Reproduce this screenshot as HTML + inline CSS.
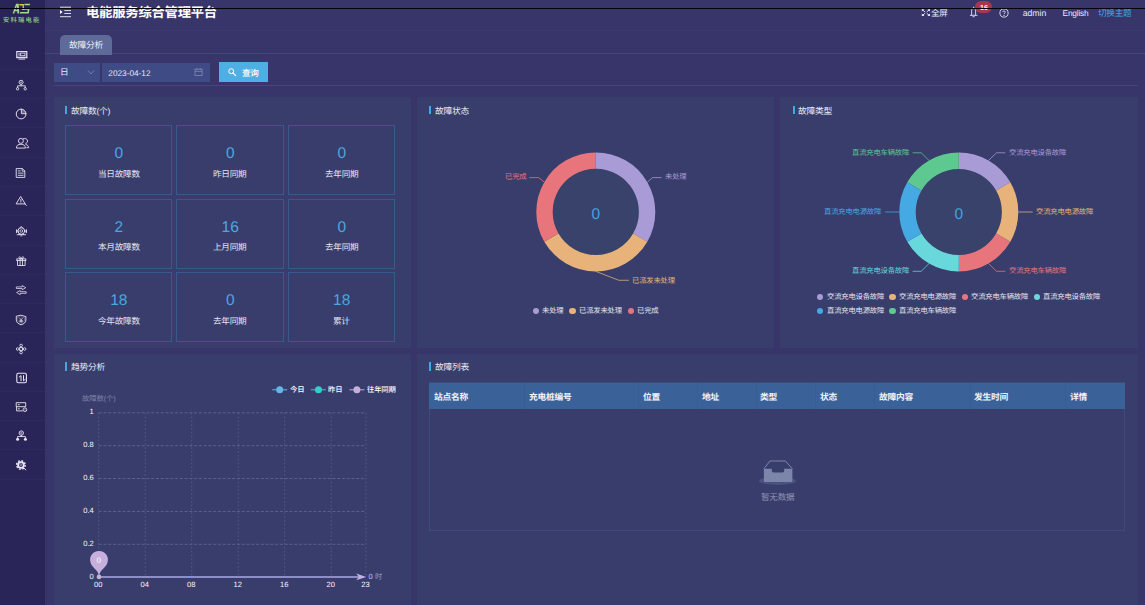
<!DOCTYPE html>
<html lang="zh-CN"><head><meta charset="utf-8"><title>电能服务综合管理平台 - 故障分析</title>
<style>
html,body{margin:0;padding:0;}
body{width:1145px;height:605px;overflow:hidden;background:#38356a;position:relative;font-family:"Liberation Sans",sans-serif;}
#app{position:absolute;left:0;top:0;width:1145px;height:605px;overflow:hidden;}
.b{position:absolute;display:block;}
.cj{position:absolute;display:block;overflow:hidden;}
.cj svg{display:block;overflow:visible;}
.cj text{font-family:"Liberation Sans","Noto Sans CJK SC",sans-serif;letter-spacing:-0.03em;text-rendering:geometricPrecision;}
.tx{position:absolute;display:block;white-space:nowrap;font-family:"Liberation Sans",sans-serif;text-rendering:geometricPrecision;-webkit-font-smoothing:antialiased;}
</style></head><body>
<div id="app">
<aside class="sidebar" aria-label="导航菜单">
<div class="b" style="left:0.00px;top:0.00px;width:45.00px;height:605.00px;background:#2a2558;"></div>
<svg class="b" style="left:10px;top:2px" width="24" height="13" viewBox="10 2 24 13"><g fill="#a2d88e"><path fill-rule="evenodd" d="M12.6 13.4L16.1 3.7H18.7L19.2 13.4H17.4L17.3 11.3H14.9L14.2 13.4ZM15.5 9.7H17.2L17 5.9Z"/><path d="M24.4 3.7H30.2L29.7 5.2H24.4ZM21.8 8.4H29.5L28.8 13.4H19.9L20.2 12.1H27.4L27.8 9.7H21.8Z"/></g><path d="M19.3 4.1H23.9V9.9H22.6V5.4H19.3Z" fill="#f1c232"/></svg>
<span class="cj" style="left:1.75px;top:15.82px;width:38.70px;height:8.17px;"><svg width="38.70" height="8.17" viewBox="0 0 38.70 8.17"><text x="1" y="6.28" font-size="6.28" font-weight="500" fill="#98cf88" style="letter-spacing:0.2em">安科瑞电能</text></svg></span>
<svg class="b" style="left:12px;top:45.40px" width="20" height="20" viewBox="12 45.40 20 20"><rect x="16.8" y="52.0" width="10.0" height="5.7" rx="0" fill="none" stroke="#e6e6f2" stroke-width="1.15"/><rect x="18.6" y="53.3" width="0.9" height="3.0" fill="#e6e6f2"/><rect x="20.6" y="53.5" width="4.4" height="2.6" rx="0" fill="none" stroke="#e6e6f2" stroke-width="0.8"/><path d="M16.5 58.2H27.1" fill="none" stroke="#e6e6f2" stroke-width="0.8" stroke-linejoin="round" stroke-linecap="round" /><path d="M18.9 59.5H24.7" fill="none" stroke="#e6e6f2" stroke-width="0.9" stroke-linejoin="round" stroke-linecap="round" /></svg>
<div class="b" style="left:0.00px;top:68.90px;width:45.00px;height:0.80px;background:rgba(110,110,190,0.07);"></div>
<svg class="b" style="left:12px;top:74.60px" width="20" height="20" viewBox="12 74.60 20 20"><circle cx="21.1" cy="81.9" r="2.0" fill="none" stroke="#e6e6f2" stroke-width="0.9"/><circle cx="21.1" cy="81.9" r="0.7" fill="#e6e6f2"/><path d="M21.1 83.9V85.4M17.6 87.2V85.4H25.2V87.2" fill="none" stroke="#e6e6f2" stroke-width="0.85" stroke-linejoin="round" stroke-linecap="round" /><circle cx="17.6" cy="88.4" r="1.2" fill="none" stroke="#e6e6f2" stroke-width="0.85"/><circle cx="25.2" cy="88.4" r="1.2" fill="none" stroke="#e6e6f2" stroke-width="0.85"/></svg>
<div class="b" style="left:0.00px;top:98.17px;width:45.00px;height:0.80px;background:rgba(110,110,190,0.07);"></div>
<svg class="b" style="left:12px;top:104.20px" width="20" height="20" viewBox="12 104.20 20 20"><circle cx="21.1" cy="114.2" r="4.85" fill="none" stroke="#e6e6f2" stroke-width="0.95"/><path d="M21.4 109.4V113.9H26" fill="none" stroke="#e6e6f2" stroke-width="0.9" stroke-linejoin="round" stroke-linecap="round" /><path d="M21.9 109.6A4.6 4.6 0 0 1 25.8 113.4H21.9Z" fill="#e6e6f2" opacity="0.35"/></svg>
<div class="b" style="left:0.00px;top:127.44px;width:45.00px;height:0.80px;background:rgba(110,110,190,0.07);"></div>
<svg class="b" style="left:12px;top:133.10px" width="20" height="20" viewBox="12 133.10 20 20"><circle cx="20.9" cy="141.0" r="2.5" fill="none" stroke="#e6e6f2" stroke-width="0.9"/><path d="M16.4 147.8C16.4 145.6 18 144.4 20.9 144.4C23.8 144.4 25.4 145.6 25.4 147.8Z" fill="none" stroke="#e6e6f2" stroke-width="0.9" stroke-linejoin="round" stroke-linecap="round" /><path d="M23.3 138.8C25.6 138 27.5 139.3 27.5 141.1C27.5 142.5 26.8 143.3 25.8 143.7M25.9 144.6C27.8 145 28.6 146.2 28.6 147.8H26.8" fill="none" stroke="#e6e6f2" stroke-width="0.9" stroke-linejoin="round" stroke-linecap="round" /></svg>
<div class="b" style="left:0.00px;top:156.71px;width:45.00px;height:0.80px;background:rgba(110,110,190,0.07);"></div>
<svg class="b" style="left:12px;top:162.70px" width="20" height="20" viewBox="12 162.70 20 20"><path d="M16.6 168.3H22.4L24.8 170.7V177.1H16.6Z" fill="none" stroke="#e6e6f2" stroke-width="0.9" stroke-linejoin="round" stroke-linecap="round" /><path d="M22.2 168.5V170.9H24.6" fill="none" stroke="#e6e6f2" stroke-width="0.8" stroke-linejoin="round" stroke-linecap="round" /><path d="M18.2 170.6H20.2M18.2 172.8H23.2M18.2 175H23.2" fill="none" stroke="#e6e6f2" stroke-width="0.85" stroke-linejoin="round" stroke-linecap="round" /></svg>
<div class="b" style="left:0.00px;top:185.98px;width:45.00px;height:0.80px;background:rgba(110,110,190,0.07);"></div>
<svg class="b" style="left:12px;top:191.40px" width="20" height="20" viewBox="12 191.40 20 20"><path d="M20.9 197.2L25.2 204.3H16.5Z" fill="none" stroke="#e6e6f2" stroke-width="0.9" stroke-linejoin="round" stroke-linecap="round" /><path d="M20.9 199.8V202.3" fill="none" stroke="#e6e6f2" stroke-width="0.9" stroke-linejoin="round" stroke-linecap="round" /><circle cx="20.9" cy="203.3" r="0.45" fill="#e6e6f2"/><path d="M24.8 204.2L26.4 205.9" fill="none" stroke="#e6e6f2" stroke-width="0.9" stroke-linejoin="round" stroke-linecap="round" /></svg>
<div class="b" style="left:0.00px;top:215.25px;width:45.00px;height:0.80px;background:rgba(110,110,190,0.07);"></div>
<svg class="b" style="left:12px;top:220.80px" width="20" height="20" viewBox="12 220.80 20 20"><circle cx="21.3" cy="230.8" r="3.3" fill="none" stroke="#e6e6f2" stroke-width="0.95"/><circle cx="21.3" cy="230.8" r="1.3" fill="none" stroke="#e6e6f2" stroke-width="0.75"/><path d="M20.2 227.4L21.3 226.2L22.4 227.4" fill="none" stroke="#e6e6f2" stroke-width="0.8" stroke-linejoin="round" stroke-linecap="round" /><path d="M16.7 229.6V232.4M26.3 229.6V232.4" fill="none" stroke="#e6e6f2" stroke-width="1.1" stroke-linejoin="round" stroke-linecap="round" /><path d="M16.7 230.8H18M24.6 230.8H26.3" fill="none" stroke="#e6e6f2" stroke-width="0.8" stroke-linejoin="round" stroke-linecap="round" /><path d="M17.2 234.5H25.6" fill="none" stroke="#e6e6f2" stroke-width="0.9" stroke-linejoin="round" stroke-linecap="round" /><path d="M19.6 233.8L19 234.5M23 233.8L23.6 234.5M20.6 235.6H22" fill="none" stroke="#e6e6f2" stroke-width="0.7" stroke-linejoin="round" stroke-linecap="round" /></svg>
<div class="b" style="left:0.00px;top:244.52px;width:45.00px;height:0.80px;background:rgba(110,110,190,0.07);"></div>
<svg class="b" style="left:12px;top:251.00px" width="20" height="20" viewBox="12 251.00 20 20"><rect x="16.8" y="258.9" width="9.0" height="1.7" rx="0" fill="none" stroke="#e6e6f2" stroke-width="0.85"/><path d="M17.5 260.6V265.5H25.1V260.6" fill="none" stroke="#e6e6f2" stroke-width="0.85" stroke-linejoin="round" stroke-linecap="round" /><path d="M20.1 258.9V265.5M22.5 258.9V265.5" fill="none" stroke="#e6e6f2" stroke-width="0.85" stroke-linejoin="round" stroke-linecap="round" /><path d="M21.3 258.8C20 258.8 18.6 258.2 18.9 257.2C19.3 256.2 20.9 256.8 21.3 258.8C21.7 256.8 23.3 256.2 23.7 257.2C24 258.2 22.6 258.8 21.3 258.8" fill="none" stroke="#e6e6f2" stroke-width="0.8" stroke-linejoin="round" stroke-linecap="round" /></svg>
<div class="b" style="left:0.00px;top:273.79px;width:45.00px;height:0.80px;background:rgba(110,110,190,0.07);"></div>
<svg class="b" style="left:12px;top:280.00px" width="20" height="20" viewBox="12 280.00 20 20"><path d="M16.7 286.9H22.2V285.6L25.8 287.7L22.2 289.8V288.5H16.7Z" fill="none" stroke="#e6e6f2" stroke-width="0.75" stroke-linejoin="round" stroke-linecap="round" /><path d="M25.8 291.7H20.2V290.4L16.6 292.5L20.2 294.6V293.3H25.8Z" fill="none" stroke="#e6e6f2" stroke-width="0.75" stroke-linejoin="round" stroke-linecap="round" /></svg>
<div class="b" style="left:0.00px;top:303.06px;width:45.00px;height:0.80px;background:rgba(110,110,190,0.07);"></div>
<svg class="b" style="left:12px;top:309.60px" width="20" height="20" viewBox="12 309.60 20 20"><path d="M21.1 314.9L25.9 316.2V319.6C25.9 322 23.8 323.6 21.1 324.4C18.4 323.6 16.3 322 16.3 319.6V316.2Z" fill="none" stroke="#e6e6f2" stroke-width="0.9" stroke-linejoin="round" stroke-linecap="round" /><path d="M21.1 316.4L24.5 317.3V319.5C24.5 321.2 23 322.4 21.1 323C19.2 322.4 17.7 321.2 17.7 319.5V317.3Z" fill="none" stroke="#e6e6f2" stroke-width="0.5" stroke-linejoin="round" stroke-linecap="round" opacity="0.55"/><path d="M19.8 317.9L21.1 319.3L22.4 317.9M21.1 319.3V322M19.7 319.9H22.5M19.7 321H22.5" fill="none" stroke="#e6e6f2" stroke-width="0.7" stroke-linejoin="round" stroke-linecap="round" /></svg>
<div class="b" style="left:0.00px;top:332.33px;width:45.00px;height:0.80px;background:rgba(110,110,190,0.07);"></div>
<svg class="b" style="left:12px;top:339.00px" width="20" height="20" viewBox="12 339.00 20 20"><rect x="19.7" y="347.6" width="2.8" height="2.8" rx="0" fill="none" stroke="#e6e6f2" stroke-width="0.9"/><circle cx="21.1" cy="345.5" r="1.3" fill="none" stroke="#e6e6f2" stroke-width="0.85"/><circle cx="21.1" cy="352.5" r="1.3" fill="none" stroke="#e6e6f2" stroke-width="0.85"/><circle cx="17.6" cy="349" r="1.3" fill="none" stroke="#e6e6f2" stroke-width="0.85"/><circle cx="24.6" cy="349" r="1.3" fill="none" stroke="#e6e6f2" stroke-width="0.85"/></svg>
<div class="b" style="left:0.00px;top:361.60px;width:45.00px;height:0.80px;background:rgba(110,110,190,0.07);"></div>
<svg class="b" style="left:12px;top:368.30px" width="20" height="20" viewBox="12 368.30 20 20"><rect x="16.8" y="373.5" width="9.6" height="9.6" rx="1.5" fill="none" stroke="#e6e6f2" stroke-width="1.1"/><path d="M19.3 377.3L21 375.9V381.1M25.1 379.7L23.5 381.1V375.9" fill="none" stroke="#e6e6f2" stroke-width="1.0" stroke-linejoin="round" stroke-linecap="round" /></svg>
<div class="b" style="left:0.00px;top:390.87px;width:45.00px;height:0.80px;background:rgba(110,110,190,0.07);"></div>
<svg class="b" style="left:12px;top:396.70px" width="20" height="20" viewBox="12 396.70 20 20"><path d="M16.6 402.4H25.7V406.4H16.6ZM16.6 406.4V410.6H22.3" fill="none" stroke="#e6e6f2" stroke-width="0.9" stroke-linejoin="round" stroke-linecap="round" /><path d="M18.2 404.4H19.3M18.2 408.5H19.3" fill="none" stroke="#e6e6f2" stroke-width="0.9" stroke-linejoin="round" stroke-linecap="round" /><circle cx="24.9" cy="409.4" r="1.85" fill="none" stroke="#e6e6f2" stroke-width="0.9"/><circle cx="24.9" cy="409.4" r="0.5" fill="#e6e6f2"/></svg>
<div class="b" style="left:0.00px;top:420.14px;width:45.00px;height:0.80px;background:rgba(110,110,190,0.07);"></div>
<svg class="b" style="left:12px;top:426.00px" width="20" height="20" viewBox="12 426.00 20 20"><circle cx="21.3" cy="433.1" r="2.2" fill="none" stroke="#e6e6f2" stroke-width="0.9"/><circle cx="21.3" cy="433.1" r="0.8" fill="none" stroke="#e6e6f2" stroke-width="0.6"/><path d="M21.3 435.3V436.5M17.6 438V436.5H25.4V438" fill="none" stroke="#e6e6f2" stroke-width="0.85" stroke-linejoin="round" stroke-linecap="round" /><circle cx="17.6" cy="439.3" r="1.5" fill="#e6e6f2"/><circle cx="25.4" cy="439.3" r="1.5" fill="#e6e6f2"/></svg>
<div class="b" style="left:0.00px;top:449.41px;width:45.00px;height:0.80px;background:rgba(110,110,190,0.07);"></div>
<svg class="b" style="left:12px;top:455.10px" width="20" height="20" viewBox="12 455.10 20 20"><circle cx="20.9" cy="465.1" r="4.3" fill="none" stroke="#e6e6f2" stroke-width="1.4" stroke-dasharray="1.8 1.577"/><circle cx="20.9" cy="465.1" r="3.8" fill="#e6e6f2"/><circle cx="20.9" cy="465.1" r="1.9" fill="#2a2558"/><circle cx="20.7" cy="464.9" r="0.9" fill="none" stroke="#e6e6f2" stroke-width="0.5"/><path d="M23.9 468.1L25.9 470.1" fill="none" stroke="#e6e6f2" stroke-width="1.0" stroke-linejoin="round" stroke-linecap="round" /></svg>
<div class="b" style="left:0.00px;top:478.68px;width:45.00px;height:0.80px;background:rgba(110,110,190,0.07);"></div>
</aside>
<header class="topbar">
<span class="cj" style="left:85.20px;top:4.11px;width:133.00px;height:17.37px;"><svg width="133.00" height="17.37" viewBox="0 0 133.00 17.37"><text x="1" y="13.36" font-size="13.36" font-weight="bold" fill="#ffffff" style="letter-spacing:-0.02em">电能服务综合管理平台</text></svg></span>
<svg class="b" style="left:59.00px;top:5.00px;" width="14.00" height="14.00" viewBox="0 0 14.00 14.00"><g stroke="#fff" stroke-width="0.85" fill="none"><path d="M1 2.2H12M5.3 5.6H12M5.3 8.5H12M1 11.7H12"/></g><path d="M1 5L3.6 7.05L1 9.1Z" fill="#fff"/></svg>
<svg class="b" style="left:920px;top:7px" width="12" height="12" viewBox="920 7 12 12"><path d="M921.80 9.20L924.40 9.20L921.80 11.60Z" fill="#eceef8"/><path d="M925.10 11.95L922.70 10.00" stroke="#eceef8" stroke-width="0.9"/><path d="M921.80 16.00L924.40 16.00L921.80 13.60Z" fill="#eceef8"/><path d="M925.10 13.25L922.70 15.20" stroke="#eceef8" stroke-width="0.9"/><path d="M930.00 9.20L927.40 9.20L930.00 11.60Z" fill="#eceef8"/><path d="M926.70 11.95L929.10 10.00" stroke="#eceef8" stroke-width="0.9"/><path d="M930.00 16.00L927.40 16.00L930.00 13.60Z" fill="#eceef8"/><path d="M926.70 13.25L929.10 15.20" stroke="#eceef8" stroke-width="0.9"/></svg>
<span class="cj" style="left:930.10px;top:7.16px;width:18.70px;height:11.18px;"><svg width="18.70" height="11.18" viewBox="0 0 18.70 11.18"><text x="1" y="8.60" font-size="8.60" fill="#eceef8">全屏</text></svg></span>
<svg class="b" style="left:968px;top:5px" width="12" height="14" viewBox="968 5 12 14"><g stroke="#dfe1f0" stroke-width="0.9" fill="none" stroke-linecap="round"><path d="M971.6 15.2V11.1C971.6 9.1 972.4 8.1 973.6 8.1C974.8 8.1 975.6 9.1 975.6 11.1V15.2M970.3 15.3H977.1M972.9 16.7H974.3M973.6 7.2V8"/></g></svg>
<div class="b" style="left:975.20px;top:0.90px;width:17.10px;height:12.40px;background:#aa364e;border-radius:6.2px;"></div>
<span class="tx" style="left:983.90px;width:200px;margin-left:-100px;text-align:center;top:3.58px;font-size:7.20px;line-height:8.64px;color:#f6eef2;font-weight:bold;">16</span>
<svg class="b" style="left:999.40px;top:8.20px;" width="10.00" height="10.00" viewBox="0 0 10.00 10.00"><circle cx="5" cy="5" r="4.1" fill="none" stroke="#dfe1f0" stroke-width="0.9"/><path d="M3.7 4.1C3.7 2.5 6.3 2.5 6.3 4.1C6.3 5.1 5 5.1 5 6.1" fill="none" stroke="#dfe1f0" stroke-width="0.85"/><circle cx="5" cy="7.4" r="0.55" fill="#dfe1f0"/></svg>
<span class="tx" style="left:1022.70px;top:7.88px;font-size:8.70px;line-height:10.44px;color:#e8e9f5;font-weight:normal;">admin</span>
<span class="tx" style="left:1062.50px;top:8.09px;font-size:8.35px;line-height:10.02px;color:#e8e9f5;font-weight:normal;letter-spacing:-0.19px;">English</span>
<span class="cj" style="left:1097.20px;top:7.41px;width:35.40px;height:11.18px;"><svg width="35.40" height="11.18" viewBox="0 0 35.40 11.18"><text x="1" y="8.60" font-size="8.60" fill="#3fa9e2">切换主题</text></svg></span>
</header>
<nav class="tabs">
<div class="b" style="left:45.00px;top:30.20px;width:1100.00px;height:0.80px;background:rgba(120,130,190,0.06);"></div>
<div class="b" style="left:45.00px;top:53.00px;width:1100.00px;height:1.00px;background:#41467d;"></div>
<div class="b" style="left:59.70px;top:35.10px;width:52.50px;height:19.50px;background:#5e6b99;border-radius:5px 5px 0 0;"></div>
<span class="cj" style="left:67.80px;top:39.38px;width:36.20px;height:11.45px;"><svg width="36.20" height="11.45" viewBox="0 0 36.20 11.45"><text x="1" y="8.81" font-size="8.81" fill="#eff0f9">故障分析</text></svg></span>
</nav>
<div class="filters" role="search">
<div class="b" style="left:54.00px;top:62.50px;width:46.00px;height:19.30px;background:#3f4b85;"></div>
<div class="b" style="left:101.80px;top:62.50px;width:108.20px;height:19.30px;background:#3f4b85;"></div>
<span class="cj" style="left:59.20px;top:66.41px;width:10.35px;height:11.18px;"><svg width="10.35" height="11.18" viewBox="0 0 10.35 11.18"><text x="1" y="8.60" font-size="8.60" fill="#e9ebf6">日</text></svg></span>
<svg class="b" style="left:86.50px;top:69.00px;" width="8.00" height="7.00" viewBox="0 0 8.00 7.00"><path d="M1 1.5L4 5L7 1.5" fill="none" stroke="#7e89b6" stroke-width="0.8"/></svg>
<span class="tx" style="left:108.30px;top:69.05px;font-size:8.25px;line-height:9.90px;color:#e9ebf6;font-weight:normal;">2023-04-12</span>
<svg class="b" style="left:193.50px;top:66.80px;" width="10.00" height="10.00" viewBox="0 0 10.00 10.00"><g fill="none" stroke="#7e89b6" stroke-width="0.8"><rect x="1" y="2.2" width="7.1" height="6.3"/><path d="M1 4.4H8.1M2.9 1.1V2.8M6.2 1.1V2.8"/></g></svg>
<div class="b" style="left:218.60px;top:62.35px;width:49.00px;height:19.50px;background:#4eafe4;"></div>
<svg class="b" style="left:227.00px;top:67.00px;" width="11.00" height="11.00" viewBox="0 0 11.00 11.00"><circle cx="4.2" cy="4.2" r="2.45" fill="none" stroke="#fff" stroke-width="1.0"/><path d="M6 6L8.7 8.7" stroke="#fff" stroke-width="1.15" stroke-linecap="round"/></svg>
<span class="cj" style="left:240.60px;top:66.61px;width:18.70px;height:11.18px;"><svg width="18.70" height="11.18" viewBox="0 0 18.70 11.18"><text x="1" y="8.60" font-size="8.60" font-weight="500" fill="#ffffff">查询</text></svg></span>
<div class="b" style="left:53.70px;top:85.00px;width:1084.00px;height:1.00px;background:#42477e;"></div>
</div>
<main class="content">
<section class="panel" aria-label="故障数(个)">
<div class="b" style="left:53.70px;top:97.00px;width:357.20px;height:250.70px;background:#393d6c;"></div>
<div class="b" style="left:65.10px;top:106.00px;width:2.30px;height:8.20px;background:#41a8e2;"></div>
<span class="cj" style="left:69.50px;top:104.86px;width:41.75px;height:11.38px;"><svg width="41.75" height="11.38" viewBox="0 0 41.75 11.38"><text x="1" y="8.76" font-size="8.76" fill="#e8eaf5">故障数(个)</text></svg></span>
<div class="b" style="left:65.00px;top:125.00px;width:107.30px;height:70.00px;border:1px solid rgba(52,130,190,0.42);box-sizing:border-box;"></div>
<span class="tx" style="left:118.80px;width:200px;margin-left:-100px;text-align:center;top:144.80px;font-size:15.50px;line-height:18.60px;color:#49a7e3;font-weight:normal;">0</span>
<span class="cj" style="left:96.80px;top:167.88px;width:44.00px;height:11.25px;"><svg width="44.00" height="11.25" viewBox="0 0 44.00 11.25"><text x="1" y="8.65" font-size="8.65" fill="#e3e6f3">当日故障数</text></svg></span>
<div class="b" style="left:176.40px;top:125.00px;width:107.30px;height:70.00px;border:1px solid rgba(52,130,190,0.42);box-sizing:border-box;"></div>
<span class="tx" style="left:230.20px;width:200px;margin-left:-100px;text-align:center;top:144.80px;font-size:15.50px;line-height:18.60px;color:#49a7e3;font-weight:normal;">0</span>
<span class="cj" style="left:212.40px;top:167.88px;width:35.60px;height:11.25px;"><svg width="35.60" height="11.25" viewBox="0 0 35.60 11.25"><text x="1" y="8.65" font-size="8.65" fill="#e3e6f3">昨日同期</text></svg></span>
<div class="b" style="left:287.90px;top:125.00px;width:107.30px;height:70.00px;border:1px solid rgba(52,130,190,0.42);box-sizing:border-box;"></div>
<span class="tx" style="left:341.70px;width:200px;margin-left:-100px;text-align:center;top:144.80px;font-size:15.50px;line-height:18.60px;color:#49a7e3;font-weight:normal;">0</span>
<span class="cj" style="left:323.90px;top:167.88px;width:35.60px;height:11.25px;"><svg width="35.60" height="11.25" viewBox="0 0 35.60 11.25"><text x="1" y="8.65" font-size="8.65" fill="#e3e6f3">去年同期</text></svg></span>
<div class="b" style="left:65.00px;top:198.60px;width:107.30px;height:70.00px;border:1px solid rgba(52,130,190,0.42);box-sizing:border-box;"></div>
<span class="tx" style="left:118.80px;width:200px;margin-left:-100px;text-align:center;top:219.30px;font-size:15.50px;line-height:18.60px;color:#49a7e3;font-weight:normal;">2</span>
<span class="cj" style="left:96.80px;top:241.48px;width:44.00px;height:11.25px;"><svg width="44.00" height="11.25" viewBox="0 0 44.00 11.25"><text x="1" y="8.65" font-size="8.65" fill="#e3e6f3">本月故障数</text></svg></span>
<div class="b" style="left:176.40px;top:198.60px;width:107.30px;height:70.00px;border:1px solid rgba(52,130,190,0.42);box-sizing:border-box;"></div>
<span class="tx" style="left:230.20px;width:200px;margin-left:-100px;text-align:center;top:219.30px;font-size:15.50px;line-height:18.60px;color:#49a7e3;font-weight:normal;">16</span>
<span class="cj" style="left:212.40px;top:241.48px;width:35.60px;height:11.25px;"><svg width="35.60" height="11.25" viewBox="0 0 35.60 11.25"><text x="1" y="8.65" font-size="8.65" fill="#e3e6f3">上月同期</text></svg></span>
<div class="b" style="left:287.90px;top:198.60px;width:107.30px;height:70.00px;border:1px solid rgba(52,130,190,0.42);box-sizing:border-box;"></div>
<span class="tx" style="left:341.70px;width:200px;margin-left:-100px;text-align:center;top:219.30px;font-size:15.50px;line-height:18.60px;color:#49a7e3;font-weight:normal;">0</span>
<span class="cj" style="left:323.90px;top:241.48px;width:35.60px;height:11.25px;"><svg width="35.60" height="11.25" viewBox="0 0 35.60 11.25"><text x="1" y="8.65" font-size="8.65" fill="#e3e6f3">去年同期</text></svg></span>
<div class="b" style="left:65.00px;top:272.00px;width:107.30px;height:70.00px;border:1px solid rgba(52,130,190,0.42);box-sizing:border-box;"></div>
<span class="tx" style="left:118.80px;width:200px;margin-left:-100px;text-align:center;top:291.80px;font-size:15.50px;line-height:18.60px;color:#49a7e3;font-weight:normal;">18</span>
<span class="cj" style="left:96.80px;top:314.88px;width:44.00px;height:11.25px;"><svg width="44.00" height="11.25" viewBox="0 0 44.00 11.25"><text x="1" y="8.65" font-size="8.65" fill="#e3e6f3">今年故障数</text></svg></span>
<div class="b" style="left:176.40px;top:272.00px;width:107.30px;height:70.00px;border:1px solid rgba(52,130,190,0.42);box-sizing:border-box;"></div>
<span class="tx" style="left:230.20px;width:200px;margin-left:-100px;text-align:center;top:291.80px;font-size:15.50px;line-height:18.60px;color:#49a7e3;font-weight:normal;">0</span>
<span class="cj" style="left:212.40px;top:314.88px;width:35.60px;height:11.25px;"><svg width="35.60" height="11.25" viewBox="0 0 35.60 11.25"><text x="1" y="8.65" font-size="8.65" fill="#e3e6f3">去年同期</text></svg></span>
<div class="b" style="left:287.90px;top:272.00px;width:107.30px;height:70.00px;border:1px solid rgba(52,130,190,0.42);box-sizing:border-box;"></div>
<span class="tx" style="left:341.70px;width:200px;margin-left:-100px;text-align:center;top:291.80px;font-size:15.50px;line-height:18.60px;color:#49a7e3;font-weight:normal;">18</span>
<span class="cj" style="left:332.30px;top:314.88px;width:18.80px;height:11.25px;"><svg width="18.80" height="11.25" viewBox="0 0 18.80 11.25"><text x="1" y="8.65" font-size="8.65" fill="#e3e6f3">累计</text></svg></span>
</section>
<section class="panel" aria-label="故障状态">
<div class="b" style="left:416.90px;top:97.00px;width:357.00px;height:250.70px;background:#393d6c;"></div>
<div class="b" style="left:429.10px;top:106.00px;width:2.30px;height:8.20px;background:#41a8e2;"></div>
<span class="cj" style="left:433.50px;top:104.86px;width:36.00px;height:11.38px;"><svg width="36.00" height="11.38" viewBox="0 0 36.00 11.38"><text x="1" y="8.76" font-size="8.76" fill="#e8eaf5">故障状态</text></svg></span>
<svg class="b" style="left:416.90px;top:97.00px;" width="357.00" height="250.70" viewBox="0 0 357.00 250.70"><circle cx="178.80" cy="114.90" r="43.60" fill="#39426a"/><path d="M178.80 55.40A59.50 59.50 0 0 1 230.33 144.65L216.13 136.45A43.10 43.10 0 0 0 178.80 71.80Z" fill="#a99bd6"/><path d="M230.33 144.65A59.50 59.50 0 0 1 127.27 144.65L141.47 136.45A43.10 43.10 0 0 0 216.13 136.45Z" fill="#e7b37a"/><path d="M127.27 144.65A59.50 59.50 0 0 1 178.80 55.40L178.80 71.80A43.10 43.10 0 0 0 141.47 136.45Z" fill="#e7757b"/><polyline points="230.30,85.20 235.60,80.60 244.60,80.60" fill="none" stroke="#a99bd6" stroke-width="0.75"/><polyline points="178.80,174.40 201.90,183.30 211.90,183.30" fill="none" stroke="#e7b37a" stroke-width="0.75"/><polyline points="127.30,85.20 121.70,80.60 112.30,80.60" fill="none" stroke="#e7757b" stroke-width="0.75"/></svg>
<span class="tx" style="left:595.70px;width:200px;margin-left:-100px;text-align:center;top:206.00px;font-size:15.50px;line-height:18.60px;color:#3fa4e0;font-weight:normal;">0</span>
<span class="cj" style="left:663.90px;top:172.21px;width:23.48px;height:9.59px;"><svg width="23.48" height="9.59" viewBox="0 0 23.48 9.59"><text x="1" y="7.37" font-size="7.37" fill="#a99bd6">未处理</text></svg></span>
<span class="cj" style="left:630.90px;top:275.61px;width:44.96px;height:9.59px;"><svg width="44.96" height="9.59" viewBox="0 0 44.96 9.59"><text x="1" y="7.37" font-size="7.37" fill="#e7b37a">已派发未处理</text></svg></span>
<span class="cj" style="left:504.32px;top:172.21px;width:23.48px;height:9.59px;"><svg width="23.48" height="9.59" viewBox="0 0 23.48 9.59"><text x="1" y="7.37" font-size="7.37" fill="#e7757b">已完成</text></svg></span>
<div class="b" style="left:532.90px;top:308.00px;width:6.20px;height:6.20px;background:#a99bd6;border-radius:50%;"></div>
<span class="cj" style="left:540.90px;top:306.21px;width:23.48px;height:9.59px;"><svg width="23.48" height="9.59" viewBox="0 0 23.48 9.59"><text x="1" y="7.37" font-size="7.37" fill="#e3e6f3">未处理</text></svg></span>
<div class="b" style="left:569.40px;top:308.00px;width:6.20px;height:6.20px;background:#e7b37a;border-radius:50%;"></div>
<span class="cj" style="left:577.60px;top:306.21px;width:44.96px;height:9.59px;"><svg width="44.96" height="9.59" viewBox="0 0 44.96 9.59"><text x="1" y="7.37" font-size="7.37" fill="#e3e6f3">已派发未处理</text></svg></span>
<div class="b" style="left:627.60px;top:308.00px;width:6.20px;height:6.20px;background:#e7757b;border-radius:50%;"></div>
<span class="cj" style="left:635.60px;top:306.21px;width:23.48px;height:9.59px;"><svg width="23.48" height="9.59" viewBox="0 0 23.48 9.59"><text x="1" y="7.37" font-size="7.37" fill="#e3e6f3">已完成</text></svg></span>
</section>
<section class="panel" aria-label="故障类型">
<div class="b" style="left:780.00px;top:97.00px;width:357.60px;height:250.70px;background:#393d6c;"></div>
<div class="b" style="left:792.50px;top:106.00px;width:2.30px;height:8.20px;background:#41a8e2;"></div>
<span class="cj" style="left:796.90px;top:104.86px;width:36.00px;height:11.38px;"><svg width="36.00" height="11.38" viewBox="0 0 36.00 11.38"><text x="1" y="8.76" font-size="8.76" fill="#e8eaf5">故障类型</text></svg></span>
<svg class="b" style="left:780.00px;top:97.00px;" width="357.60" height="250.70" viewBox="0 0 357.60 250.70"><circle cx="178.80" cy="115.00" r="43.60" fill="#39426a"/><path d="M178.80 55.50A59.50 59.50 0 0 1 230.33 85.25L216.13 93.45A43.10 43.10 0 0 0 178.80 71.90Z" fill="#a99bd6"/><path d="M230.33 85.25A59.50 59.50 0 0 1 230.33 144.75L216.13 136.55A43.10 43.10 0 0 0 216.13 93.45Z" fill="#e7b37a"/><path d="M230.33 144.75A59.50 59.50 0 0 1 178.80 174.50L178.80 158.10A43.10 43.10 0 0 0 216.13 136.55Z" fill="#e7757b"/><path d="M178.80 174.50A59.50 59.50 0 0 1 127.27 144.75L141.47 136.55A43.10 43.10 0 0 0 178.80 158.10Z" fill="#68d8dc"/><path d="M127.27 144.75A59.50 59.50 0 0 1 127.27 85.25L141.47 93.45A43.10 43.10 0 0 0 141.47 136.55Z" fill="#45a9e3"/><path d="M127.27 85.25A59.50 59.50 0 0 1 178.80 55.50L178.80 71.90A43.10 43.10 0 0 0 141.47 93.45Z" fill="#5dc890"/><polyline points="208.50,63.50 216.50,55.80 225.30,55.80" fill="none" stroke="#a99bd6" stroke-width="0.75"/><polyline points="238.30,115.00 252.70,115.00" fill="none" stroke="#e7b37a" stroke-width="0.75"/><polyline points="208.50,166.50 216.50,174.30 225.30,174.30" fill="none" stroke="#e7757b" stroke-width="0.75"/><polyline points="149.10,166.50 141.20,174.30 132.60,174.30" fill="none" stroke="#68d8dc" stroke-width="0.75"/><polyline points="119.40,115.00 105.20,115.00" fill="none" stroke="#45a9e3" stroke-width="0.75"/><polyline points="149.10,63.50 141.20,55.80 132.60,55.80" fill="none" stroke="#5dc890" stroke-width="0.75"/></svg>
<span class="tx" style="left:958.80px;width:200px;margin-left:-100px;text-align:center;top:206.10px;font-size:15.50px;line-height:18.60px;color:#3fa4e0;font-weight:normal;">0</span>
<span class="cj" style="left:1007.60px;top:147.81px;width:59.28px;height:9.59px;"><svg width="59.28" height="9.59" viewBox="0 0 59.28 9.59"><text x="1" y="7.37" font-size="7.37" fill="#a99bd6">交流充电设备故障</text></svg></span>
<span class="cj" style="left:1034.80px;top:206.91px;width:59.28px;height:9.59px;"><svg width="59.28" height="9.59" viewBox="0 0 59.28 9.59"><text x="1" y="7.37" font-size="7.37" fill="#e7b37a">交流充电电源故障</text></svg></span>
<span class="cj" style="left:1007.60px;top:266.11px;width:59.28px;height:9.59px;"><svg width="59.28" height="9.59" viewBox="0 0 59.28 9.59"><text x="1" y="7.37" font-size="7.37" fill="#e7757b">交流充电车辆故障</text></svg></span>
<span class="cj" style="left:850.92px;top:266.11px;width:59.28px;height:9.59px;"><svg width="59.28" height="9.59" viewBox="0 0 59.28 9.59"><text x="1" y="7.37" font-size="7.37" fill="#68d8dc">直流充电设备故障</text></svg></span>
<span class="cj" style="left:823.32px;top:206.91px;width:59.28px;height:9.59px;"><svg width="59.28" height="9.59" viewBox="0 0 59.28 9.59"><text x="1" y="7.37" font-size="7.37" fill="#45a9e3">直流充电电源故障</text></svg></span>
<span class="cj" style="left:850.92px;top:147.81px;width:59.28px;height:9.59px;"><svg width="59.28" height="9.59" viewBox="0 0 59.28 9.59"><text x="1" y="7.37" font-size="7.37" fill="#5dc890">直流充电车辆故障</text></svg></span>
<div class="b" style="left:817.10px;top:294.10px;width:6.20px;height:6.20px;background:#a99bd6;border-radius:50%;"></div>
<span class="cj" style="left:825.60px;top:292.31px;width:59.28px;height:9.59px;"><svg width="59.28" height="9.59" viewBox="0 0 59.28 9.59"><text x="1" y="7.37" font-size="7.37" fill="#e3e6f3">交流充电设备故障</text></svg></span>
<div class="b" style="left:889.35px;top:294.10px;width:6.20px;height:6.20px;background:#e7b37a;border-radius:50%;"></div>
<span class="cj" style="left:897.85px;top:292.31px;width:59.28px;height:9.59px;"><svg width="59.28" height="9.59" viewBox="0 0 59.28 9.59"><text x="1" y="7.37" font-size="7.37" fill="#e3e6f3">交流充电电源故障</text></svg></span>
<div class="b" style="left:961.60px;top:294.10px;width:6.20px;height:6.20px;background:#e7757b;border-radius:50%;"></div>
<span class="cj" style="left:970.10px;top:292.31px;width:59.28px;height:9.59px;"><svg width="59.28" height="9.59" viewBox="0 0 59.28 9.59"><text x="1" y="7.37" font-size="7.37" fill="#e3e6f3">交流充电车辆故障</text></svg></span>
<div class="b" style="left:1033.85px;top:294.10px;width:6.20px;height:6.20px;background:#68d8dc;border-radius:50%;"></div>
<span class="cj" style="left:1042.35px;top:292.31px;width:59.28px;height:9.59px;"><svg width="59.28" height="9.59" viewBox="0 0 59.28 9.59"><text x="1" y="7.37" font-size="7.37" fill="#e3e6f3">直流充电设备故障</text></svg></span>
<div class="b" style="left:817.10px;top:307.60px;width:6.20px;height:6.20px;background:#45a9e3;border-radius:50%;"></div>
<span class="cj" style="left:825.60px;top:305.81px;width:59.28px;height:9.59px;"><svg width="59.28" height="9.59" viewBox="0 0 59.28 9.59"><text x="1" y="7.37" font-size="7.37" fill="#e3e6f3">直流充电电源故障</text></svg></span>
<div class="b" style="left:889.35px;top:307.60px;width:6.20px;height:6.20px;background:#5dc890;border-radius:50%;"></div>
<span class="cj" style="left:897.85px;top:305.81px;width:59.28px;height:9.59px;"><svg width="59.28" height="9.59" viewBox="0 0 59.28 9.59"><text x="1" y="7.37" font-size="7.37" fill="#e3e6f3">直流充电车辆故障</text></svg></span>
</section>
<section class="panel" aria-label="趋势分析">
<div class="b" style="left:53.70px;top:353.80px;width:357.20px;height:260.00px;background:#393d6c;"></div>
<div class="b" style="left:65.10px;top:362.40px;width:2.30px;height:8.20px;background:#41a8e2;"></div>
<span class="cj" style="left:69.50px;top:361.26px;width:36.00px;height:11.38px;"><svg width="36.00" height="11.38" viewBox="0 0 36.00 11.38"><text x="1" y="8.76" font-size="8.76" fill="#e8eaf5">趋势分析</text></svg></span>
<svg class="b" style="left:53.70px;top:353.80px;" width="357.20" height="251.20" viewBox="0 0 357.20 251.20"><path d="M44.70 58.80H312.00" stroke="#646e98" stroke-width="0.75" stroke-dasharray="2.98 1.79" fill="none"/><path d="M44.70 91.68H312.00" stroke="#646e98" stroke-width="0.75" stroke-dasharray="2.98 1.79" fill="none"/><path d="M44.70 124.56H312.00" stroke="#646e98" stroke-width="0.75" stroke-dasharray="2.98 1.79" fill="none"/><path d="M44.70 157.44H312.00" stroke="#646e98" stroke-width="0.75" stroke-dasharray="2.98 1.79" fill="none"/><path d="M44.70 190.32H312.00" stroke="#646e98" stroke-width="0.75" stroke-dasharray="2.98 1.79" fill="none"/><path d="M44.70 58.80V223.20" stroke="#5a638f" stroke-width="0.75" stroke-dasharray="1.7 2.13" fill="none"/><path d="M91.20 58.80V223.20" stroke="#5a638f" stroke-width="0.75" stroke-dasharray="1.7 2.13" fill="none"/><path d="M137.70 58.80V223.20" stroke="#5a638f" stroke-width="0.75" stroke-dasharray="1.7 2.13" fill="none"/><path d="M184.20 58.80V223.20" stroke="#5a638f" stroke-width="0.75" stroke-dasharray="1.7 2.13" fill="none"/><path d="M230.70 58.80V223.20" stroke="#5a638f" stroke-width="0.75" stroke-dasharray="1.7 2.13" fill="none"/><path d="M277.20 58.80V223.20" stroke="#5a638f" stroke-width="0.75" stroke-dasharray="1.7 2.13" fill="none"/><path d="M312.00 58.80V223.20" stroke="#5a638f" stroke-width="0.75" stroke-dasharray="1.7 2.13" fill="none"/><path d="M44.70 222.95H306.00" stroke="#aaa8e6" stroke-width="1.6" fill="none"/><path d="M312.30 222.95L302.20 219.55L304.80 222.95L302.20 226.35Z" fill="#c5b0e4"/><path d="M36.92 209.74A8.95 8.95 0 1 1 53.08 209.74C50.78 214.59 45.00 216.69 45.00 222.95C45.00 216.69 39.22 214.59 36.92 209.74Z" fill="#c6aedd"/><circle cx="45.00" cy="222.95" r="2.35" fill="#c6aedd"/><path d="M218.30 35.80H233.20" stroke="#62b7ea" stroke-width="1" /><circle cx="225.70" cy="35.80" r="3.5" fill="#62b7ea"/><path d="M256.90 35.80H271.80" stroke="#2fd2c6" stroke-width="1" /><circle cx="264.50" cy="35.80" r="3.5" fill="#2fd2c6"/><path d="M295.50 35.80H310.40" stroke="#c6aedd" stroke-width="1" /><circle cx="302.90" cy="35.80" r="3.5" fill="#c6aedd"/></svg>
<span class="cj" style="left:288.80px;top:384.71px;width:16.32px;height:9.59px;"><svg width="16.32" height="9.59" viewBox="0 0 16.32 9.59"><text x="1" y="7.37" font-size="7.37" font-weight="500" fill="#ffffff">今日</text></svg></span>
<span class="cj" style="left:327.40px;top:384.71px;width:16.32px;height:9.59px;"><svg width="16.32" height="9.59" viewBox="0 0 16.32 9.59"><text x="1" y="7.37" font-size="7.37" font-weight="500" fill="#ffffff">昨日</text></svg></span>
<span class="cj" style="left:366.30px;top:384.71px;width:30.64px;height:9.59px;"><svg width="30.64" height="9.59" viewBox="0 0 30.64 9.59"><text x="1" y="7.37" font-size="7.37" font-weight="500" fill="#ffffff">往年同期</text></svg></span>
<span class="cj" style="left:81.10px;top:394.35px;width:35.90px;height:9.71px;"><svg width="35.90" height="9.71" viewBox="0 0 35.90 9.71"><text x="1" y="7.47" font-size="7.47" fill="#7d84a8">故障数(个)</text></svg></span>
<span class="tx" style="left:93.70px;width:200px;margin-left:-200px;text-align:right;top:407.27px;font-size:7.55px;line-height:9.06px;color:#f6f7fc;font-weight:normal;">1</span>
<span class="tx" style="left:93.70px;width:200px;margin-left:-200px;text-align:right;top:440.15px;font-size:7.55px;line-height:9.06px;color:#f6f7fc;font-weight:normal;">0.8</span>
<span class="tx" style="left:93.70px;width:200px;margin-left:-200px;text-align:right;top:473.03px;font-size:7.55px;line-height:9.06px;color:#f6f7fc;font-weight:normal;">0.6</span>
<span class="tx" style="left:93.70px;width:200px;margin-left:-200px;text-align:right;top:505.91px;font-size:7.55px;line-height:9.06px;color:#f6f7fc;font-weight:normal;">0.4</span>
<span class="tx" style="left:93.70px;width:200px;margin-left:-200px;text-align:right;top:538.79px;font-size:7.55px;line-height:9.06px;color:#f6f7fc;font-weight:normal;">0.2</span>
<span class="tx" style="left:93.70px;width:200px;margin-left:-200px;text-align:right;top:571.67px;font-size:7.55px;line-height:9.06px;color:#f6f7fc;font-weight:normal;">0</span>
<span class="tx" style="left:98.20px;width:200px;margin-left:-100px;text-align:center;top:580.17px;font-size:7.55px;line-height:9.06px;color:#f6f7fc;font-weight:normal;">00</span>
<span class="tx" style="left:144.70px;width:200px;margin-left:-100px;text-align:center;top:580.17px;font-size:7.55px;line-height:9.06px;color:#f6f7fc;font-weight:normal;">04</span>
<span class="tx" style="left:191.20px;width:200px;margin-left:-100px;text-align:center;top:580.17px;font-size:7.55px;line-height:9.06px;color:#f6f7fc;font-weight:normal;">08</span>
<span class="tx" style="left:237.70px;width:200px;margin-left:-100px;text-align:center;top:580.17px;font-size:7.55px;line-height:9.06px;color:#f6f7fc;font-weight:normal;">12</span>
<span class="tx" style="left:284.20px;width:200px;margin-left:-100px;text-align:center;top:580.17px;font-size:7.55px;line-height:9.06px;color:#f6f7fc;font-weight:normal;">16</span>
<span class="tx" style="left:330.70px;width:200px;margin-left:-100px;text-align:center;top:580.17px;font-size:7.55px;line-height:9.06px;color:#f6f7fc;font-weight:normal;">20</span>
<span class="tx" style="left:365.50px;width:200px;margin-left:-100px;text-align:center;top:580.17px;font-size:7.55px;line-height:9.06px;color:#f6f7fc;font-weight:normal;">23</span>
<span class="tx" style="left:98.75px;width:200px;margin-left:-100px;text-align:center;top:555.70px;font-size:8.00px;line-height:9.60px;color:#fff;font-weight:normal;">0</span>
<span class="tx" style="left:368.50px;top:572.00px;font-size:7.50px;line-height:9.00px;color:#c6c5ee;font-weight:normal;">0</span>
<span class="cj" style="left:373.80px;top:571.71px;width:9.00px;height:9.37px;"><svg width="9.00" height="9.37" viewBox="0 0 9.00 9.37"><text x="1" y="7.21" font-size="7.21" fill="#9ca2c3">时</text></svg></span>
</section>
<section class="panel" aria-label="故障列表">
<div class="b" style="left:416.90px;top:353.80px;width:720.70px;height:260.00px;background:#393d6c;"></div>
<div class="b" style="left:429.10px;top:362.40px;width:2.30px;height:8.20px;background:#41a8e2;"></div>
<span class="cj" style="left:433.50px;top:361.26px;width:36.00px;height:11.38px;"><svg width="36.00" height="11.38" viewBox="0 0 36.00 11.38"><text x="1" y="8.76" font-size="8.76" fill="#e8eaf5">故障列表</text></svg></span>
<div class="b" style="left:429.20px;top:382.40px;width:696.30px;height:148.60px;border:1px solid rgba(70,110,170,0.30);box-sizing:border-box;"></div>
<div class="b" style="left:429.20px;top:382.60px;width:696.30px;height:26.30px;background:#3a6298;"></div>
<div class="b" style="left:524.10px;top:382.60px;width:0.80px;height:26.30px;background:rgba(20,30,80,0.06);"></div>
<div class="b" style="left:638.20px;top:382.60px;width:0.80px;height:26.30px;background:rgba(20,30,80,0.06);"></div>
<div class="b" style="left:697.10px;top:382.60px;width:0.80px;height:26.30px;background:rgba(20,30,80,0.06);"></div>
<div class="b" style="left:755.60px;top:382.60px;width:0.80px;height:26.30px;background:rgba(20,30,80,0.06);"></div>
<div class="b" style="left:815.00px;top:382.60px;width:0.80px;height:26.30px;background:rgba(20,30,80,0.06);"></div>
<div class="b" style="left:873.90px;top:382.60px;width:0.80px;height:26.30px;background:rgba(20,30,80,0.06);"></div>
<div class="b" style="left:969.50px;top:382.60px;width:0.80px;height:26.30px;background:rgba(20,30,80,0.06);"></div>
<div class="b" style="left:1065.40px;top:382.60px;width:0.80px;height:26.30px;background:rgba(20,30,80,0.06);"></div>
<span class="cj" style="left:433.05px;top:390.51px;width:36.00px;height:11.38px;"><svg width="36.00" height="11.38" viewBox="0 0 36.00 11.38"><text x="1" y="8.76" font-size="8.76" font-weight="bold" fill="#f1f3fa">站点名称</text></svg></span>
<span class="cj" style="left:527.95px;top:390.51px;width:44.50px;height:11.38px;"><svg width="44.50" height="11.38" viewBox="0 0 44.50 11.38"><text x="1" y="8.76" font-size="8.76" font-weight="bold" fill="#f1f3fa">充电桩编号</text></svg></span>
<span class="cj" style="left:642.05px;top:390.51px;width:19.00px;height:11.38px;"><svg width="19.00" height="11.38" viewBox="0 0 19.00 11.38"><text x="1" y="8.76" font-size="8.76" font-weight="bold" fill="#f1f3fa">位置</text></svg></span>
<span class="cj" style="left:700.95px;top:390.51px;width:19.00px;height:11.38px;"><svg width="19.00" height="11.38" viewBox="0 0 19.00 11.38"><text x="1" y="8.76" font-size="8.76" font-weight="bold" fill="#f1f3fa">地址</text></svg></span>
<span class="cj" style="left:759.45px;top:390.51px;width:19.00px;height:11.38px;"><svg width="19.00" height="11.38" viewBox="0 0 19.00 11.38"><text x="1" y="8.76" font-size="8.76" font-weight="bold" fill="#f1f3fa">类型</text></svg></span>
<span class="cj" style="left:818.85px;top:390.51px;width:19.00px;height:11.38px;"><svg width="19.00" height="11.38" viewBox="0 0 19.00 11.38"><text x="1" y="8.76" font-size="8.76" font-weight="bold" fill="#f1f3fa">状态</text></svg></span>
<span class="cj" style="left:877.75px;top:390.51px;width:36.00px;height:11.38px;"><svg width="36.00" height="11.38" viewBox="0 0 36.00 11.38"><text x="1" y="8.76" font-size="8.76" font-weight="bold" fill="#f1f3fa">故障内容</text></svg></span>
<span class="cj" style="left:973.35px;top:390.51px;width:36.00px;height:11.38px;"><svg width="36.00" height="11.38" viewBox="0 0 36.00 11.38"><text x="1" y="8.76" font-size="8.76" font-weight="bold" fill="#f1f3fa">发生时间</text></svg></span>
<span class="cj" style="left:1069.25px;top:390.51px;width:19.00px;height:11.38px;"><svg width="19.00" height="11.38" viewBox="0 0 19.00 11.38"><text x="1" y="8.76" font-size="8.76" font-weight="bold" fill="#f1f3fa">详情</text></svg></span>
<svg class="b" style="left:757.00px;top:457.60px;" width="42.00" height="29.00" viewBox="0 0 42.00 29.00"><ellipse cx="20.6" cy="23.0" rx="18.6" ry="3.9" fill="#4a5281"/><path d="M6.9 10.8L12.9 3.0H28.4L35.4 10.8" fill="none" stroke="#8f97b9" stroke-width="0.8"/><path d="M6.9 10.8H14.8V12.4C14.8 13.6 15.6 14.4 16.6 14.4H25.4C26.4 14.4 27.2 13.6 27.2 12.4V10.8H35.4V22.4C35.4 23.4 34.8 24 33.8 24H8.5C7.5 24 6.9 23.4 6.9 22.4Z" fill="#7c86aa"/></svg>
<span class="cj" style="left:759.80px;top:490.81px;width:35.40px;height:11.18px;"><svg width="35.40" height="11.18" viewBox="0 0 35.40 11.18"><text x="1" y="8.60" font-size="8.60" fill="#8e94b6">暂无数据</text></svg></span>
</section>
</main>
<div class="overlay">
<div class="b" style="left:0.00px;top:8.10px;width:1145.00px;height:0.80px;background:#05040c;"></div>
</div>
</div></body></html>
